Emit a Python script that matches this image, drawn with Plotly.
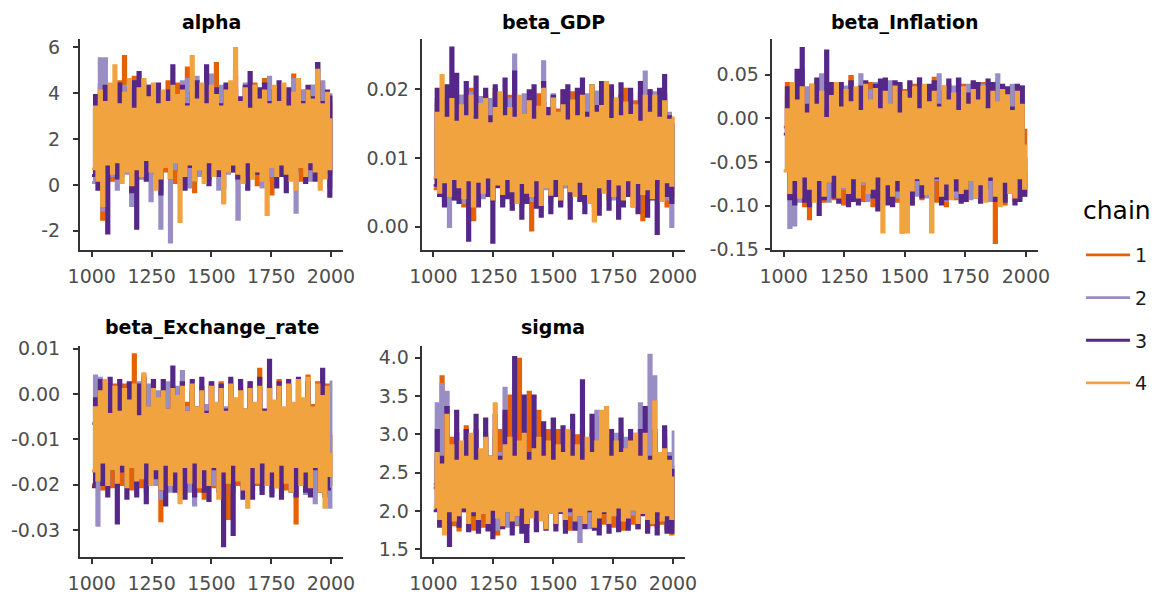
import plotly.graph_objects as go

# ---------------- data ----------------
# Each chain is read off the picture as alternating lower / upper envelope
# values per ~10-iteration pixel column (the dense trace renders as a band).
params = ["alpha", "beta_GDP", "beta_Inflation", "beta_Exchange_rate", "sigma"]
chains = ["1", "2", "3", "4"]
chain_colors = ["#e66101", "#998ec3", "#542788", "#f1a340"]

iterations = [round(1001 + k * 999 / 99) for k in range(100)]

alpha_c1 = [0.4, 3.2, 1.0, 4.3, -1.5, 3.8, 0.7, 4.0, 0.2, 3.6,
            0.9, 4.5, 0.4, 5.6, 1.2, 3.5, -0.3, 4.7, 0.8, 3.9,
            0.3, 3.4, 1.1, 4.3, 0.5, 3.7, 0.9, 4.1, -0.2, 3.3,
            0.6, 4.5, 1.0, 3.8, 0.1, 4.4, 0.8, 3.5, 0.4, 5.1,
            1.2, 3.6, -0.3, 4.0, 0.7, 3.4, 0.9, 4.5, 0.3, 3.9,
            1.0, 5.3, 0.5, 3.5, -0.7, 4.2, 0.9, 3.6, 0.6, 5.0,
            0.2, 3.7, 1.1, 4.3, 0.4, 3.4, 0.8, 4.4, 0.0, 3.8,
            1.0, 4.6, 0.6, 3.5, -0.4, 4.1, 1.1, 3.6, 0.5, 4.2,
            0.3, 3.5, 1.0, 4.8, 0.6, 3.7, 0.2, 4.1, 0.9, 3.4,
            0.4, 4.3, 1.1, 3.6, 0.3, 4.4, 0.8, 3.9, 0.5, 3.6]
alpha_c2 = [0.1, 3.5, 1.0, 5.5, -1.1, 5.5, 0.8, 3.6, 0.4, 4.1,
            -0.2, 3.7, 1.1, 4.3, 0.5, 3.4, -0.9, 4.0, 0.7, 3.8,
            0.3, 4.4, 1.0, 3.5, -0.7, 4.1, 0.6, 3.6, -1.9, 3.8,
            0.9, 3.4, -2.5, 4.2, 0.7, 3.6, 0.3, 4.5, 1.1, 4.6,
            -0.1, 3.5, 0.8, 4.7, 0.4, 3.7, 1.0, 4.2, 0.2, 4.8,
            0.7, 3.5, -0.2, 4.3, 1.1, 3.6, 0.5, 4.1, 0.9, 4.7,
            -1.5, 3.6, 0.6, 4.4, 1.0, 3.5, 0.3, 4.3, 0.8, 3.7,
            -0.1, 4.1, 0.9, 4.7, 0.4, 3.6, 1.2, 4.2, 0.5, 3.5,
            0.8, 4.0, 0.3, 4.6, -1.2, 3.7, 0.9, 4.1, 0.6, 3.4,
            0.2, 4.3, 1.0, 3.6, 0.4, 4.5, 0.8, 3.8, -0.1, 4.0]
alpha_c3 = [0.4, 3.9, -0.2, 3.4, 1.0, 4.3, -2.1, 3.7, 0.6, 4.2,
            0.3, 4.4, 1.1, 3.5, 0.7, 4.2, -0.3, 4.5, -1.9, 4.9,
            0.8, 3.6, 0.2, 4.3, 1.0, 3.4, 0.5, 4.4, -0.4, 3.7,
            0.9, 4.1, 0.3, 5.2, 1.1, 3.6, 0.6, 4.3, -0.2, 3.5,
            0.8, 4.0, 0.2, 4.5, 1.0, 3.7, 0.5, 5.2, 0.0, 3.6,
            0.9, 4.2, 0.4, 3.5, -0.1, 4.4, 1.1, 3.6, 0.6, 4.1,
            0.3, 3.8, 1.0, 4.3, -0.2, 4.9, 0.7, 3.5, 0.5, 4.2,
            1.1, 4.4, 0.2, 3.6, 0.8, 4.1, -0.1, 4.5, 0.4, 3.7,
            -0.3, 4.2, 0.9, 3.5, 0.6, 4.4, 1.0, 3.6, 0.1, 4.3,
            0.7, 3.8, 0.2, 5.3, 1.0, 3.6, 0.5, 4.1, -0.5, 3.9]
alpha_c4 = [0.7, 3.4, 0.2, 4.1, -0.9, 3.6, 0.9, 4.4, 0.5, 5.2,
            1.0, 3.5, 0.1, 4.0, 0.6, 4.6, 0.0, 3.3, 0.7, 4.2,
            0.4, 4.6, 1.1, 3.8, 0.6, 4.4, -0.2, 3.5, 0.3, 4.1,
            0.8, 3.6, 0.3, 4.3, 1.0, 3.9, -1.6, 4.1, 0.4, 3.4,
            0.9, 5.6, 0.2, 3.7, 0.7, 4.4, 0.1, 3.5, 1.0, 4.3,
            0.4, 3.9, 0.7, 3.4, -0.8, 4.1, 0.6, 4.5, 0.9, 5.95,
            0.5, 3.6, 0.1, 4.2, 1.0, 3.3, 0.3, 4.3, 0.6, 3.7,
            0.2, 4.1, -1.3, 3.5, 0.8, 4.3, 0.4, 3.6, 0.9, 4.4,
            0.5, 3.4, 0.2, 4.0, -0.2, 4.6, 0.8, 3.5, 0.4, 4.1,
            1.0, 3.7, 0.6, 5.0, -0.2, 3.5, 0.3, 4.0, 0.7, 2.9]

gdp_c1 = [.0055, .0178, .0070, .0150, .0040, .0185, .0062, .0195, .0045, .0160,
          .0072, .0190, .0030, .0165, .0058, .0200, .0010, .0155, .0066, .0178,
          .0048, .0190, .0068, .0162, .0038, .0200, .0060, .0158, .0045, .0186,
          .0070, .0190, .0035, .0155, .0056, .0182, .0074, .0168, .0040, .0188,
          -.0005, .0160, .0066, .0192, .0030, .0180, .0060, .0158, .0042, .0190,
          .0072, .0170, .0032, .0198, .0058, .0156, .0040, .0195, .0068, .0165,
          .0052, .0186, .0035, .0160, .0070, .0188, .0010, .0172, .0045, .0205,
          .0065, .0158, .0040, .0196, .0072, .0165, .0045, .0190, .0060, .0200,
          .0048, .0162, .0030, .0182, .0066, .0194, .0010, .0160, .0052, .0198,
          .0070, .0165, .0040, .0186, .0062, .0190, .0030, .0160, .0045, .0160]
gdp_c2 = [.0070, .0185, .0045, .0160, .0062, .0180, .0000, .0155, .0040, .0182,
          .0068, .0190, .0035, .0162, .0056, .0195, .0038, .0158, .0072, .0188,
          .0042, .0165, .0060, .0185, .0040, .0194, .0070, .0160, .0036, .0190,
          .0064, .0186, .0048, .0250, .0052, .0162, .0030, .0192, .0070, .0158,
          .0038, .0190, .0062, .0160, .0042, .0240, .0055, .0170, .0035, .0192,
          .0068, .0160, .0040, .0186, .0058, .0190, .0030, .0165, .0064, .0192,
          .0050, .0160, .0036, .0192, .0070, .0170, .0042, .0196, .0030, .0158,
          .0066, .0188, .0052, .0162, .0040, .0186, .0062, .0190, .0036, .0160,
          .0050, .0192, .0068, .0170, .0030, .0188, .0060, .0225, .0038, .0162,
          .0045, .0195, .0064, .0158, .0050, .0192, .0040, .0165, .0000, .0070]
gdp_c3 = [.0060, .0200, .0045, .0160, .0030, .0205, .0068, .0260, .0040, .0222,
          .0035, .0165, .0055, .0210, -.0020, .0160, .0060, .0218, .0030, .0175,
          .0066, .0200, .0045, .0160, -.0023, .0205, .0058, .0170, .0030, .0215,
          .0042, .0160, .0025, .0225, .0064, .0185, .0012, .0162, .0035, .0198,
          .0068, .0205, .0028, .0165, .0015, .0210, .0060, .0172, .0020, .0190,
          .0045, .0160, .0030, .0198, .0066, .0205, .0012, .0165, .0056, .0200,
          .0038, .0215, .0020, .0165, .0062, .0205, .0030, .0175, .0018, .0210,
          .0055, .0160, .0025, .0205, .0068, .0172, .0012, .0208, .0030, .0165,
          .0045, .0200, .0064, .0160, .0020, .0210, .0058, .0170, .0015, .0198,
          .0040, .0165, -.0010, .0200, .0062, .0220, .0045, .0160, .0035, .0150]
gdp_c4 = [.0072, .0165, .0050, .0220, .0065, .0158, .0045, .0185, .0070, .0152,
          .0058, .0176, .0042, .0160, .0068, .0190, .0030, .0155, .0066, .0178,
          .0050, .0185, .0072, .0150, .0040, .0172, .0062, .0195, .0048, .0160,
          .0070, .0172, .0052, .0158, .0035, .0190, .0064, .0162, .0050, .0182,
          .0045, .0155, .0068, .0174, .0032, .0200, .0058, .0160, .0047, .0186,
          .0070, .0165, .0040, .0176, .0062, .0154, .0052, .0183, .0045, .0160,
          .0066, .0190, .0048, .0158, .0035, .0205, .0008, .0165, .0058, .0175,
          .0050, .0210, .0070, .0156, .0045, .0185, .0062, .0160, .0040, .0180,
          .0068, .0162, .0030, .0176, .0064, .0152, .0048, .0190, .0055, .0165,
          .0042, .0190, .0070, .0158, .0038, .0182, .0065, .0155, .0060, .0160]

infl_c1 = [-.010, .040, -.085, .015, -.095, .038, -.070, .042, -.100, .010,
           -.115, .035, -.068, .020, -.088, .040, -.095, .008, -.075, .030,
           -.092, .038, -.066, .015, -.098, .035, -.080, .048, -.090, .012,
           -.070, .036, -.094, .018, -.082, .040, -.100, .010, -.072, .035,
           -.092, .020, -.085, .040, -.068, .012, -.095, .036, -.130, .032,
           -.078, .015, -.098, .038, -.070, .036, -.092, .010, -.086, .036,
           -.072, .046, -.095, .018, -.080, .036, -.100, .012, -.068, .034,
           -.092, .020, -.075, .038, -.094, .010, -.070, .040, -.085, .018,
           -.095, .040, -.068, .012, -.090, .038, -.142, .020, -.078, .034,
           -.098, .015, -.070, .034, -.094, .036, -.080, .012, -.084, -.012]
infl_c2 = [-.060, .025, -.125, .030, -.122, .008, -.095, .055, -.070, .035,
           -.088, .012, -.092, .040, -.068, .050, -.090, .015, -.095, .034,
           -.070, .038, -.092, .010, -.080, .036, -.094, .040, -.068, .015,
           -.090, .050, -.075, .012, -.094, .032, -.070, .040, -.092, .018,
           -.088, .038, -.066, .042, -.086, .010, -.090, .038, -.095, .020,
           -.070, .040, -.092, .015, -.088, .045, -.068, .034, -.090, .010,
           -.092, .036, -.070, .050, -.090, .015, -.094, .038, -.068, .036,
           -.090, .012, -.094, .035, -.072, .038, -.092, .015, -.088, .034,
           -.070, .038, -.086, .010, -.094, .040, -.090, .050, -.068, .018,
           -.094, .034, -.072, .038, -.086, .012, -.092, .036, -.088, -.060]
infl_c3 = [-.018, .035, -.092, .012, -.098, .055, -.070, .080, -.095, .015,
           -.100, .038, -.068, .045, -.110, .010, -.092, .077, -.072, .040,
           -.090, .015, -.096, .040, -.070, .030, -.100, .042, -.094, .010,
           -.098, .036, -.072, .042, -.080, .015, -.090, .038, -.105, .044,
           -.070, .045, -.098, .012, -.100, .042, -.082, .040, -.068, .015,
           -.092, .042, -.098, .030, -.070, .045, -.090, .010, -.078, .038,
           -.094, .042, -.068, .015, -.098, .030, -.092, .044, -.070, .012,
           -.082, .045, -.096, .015, -.094, .028, -.068, .042, -.090, .040,
           -.096, .012, -.080, .044, -.070, .040, -.094, .015, -.092, .038,
           -.095, .035, -.070, .012, -.098, .038, -.094, .036, -.088, -.045]
infl_c4 = [-.060, .010, -.085, .040, -.070, .020, -.090, .035, -.066, .005,
           -.080, .038, -.095, .015, -.070, .030, -.088, .000, -.072, .025,
           -.064, .040, -.090, .012, -.078, .032, -.085, .018, -.068, .035,
           -.090, .008, -.072, .038, -.085, .020, -.080, .033, -.066, .010,
           -.130, .030, -.075, .015, -.088, .036, -.070, .005, -.130, .030,
           -.130, .022, -.082, .035, -.068, .010, -.075, .038, -.086, .018,
           -.130, .030, -.066, .012, -.088, .036, -.074, .020, -.092, .028,
           -.068, .008, -.085, .035, -.080, .015, -.070, .032, -.090, .020,
           -.075, .036, -.095, .010, -.066, .030, -.088, .018, -.100, .032,
           -.072, .026, -.085, .008, -.090, .030, -.068, .015, -.080, -.030]

exch_c1 = [-.0200, .0010, -.0150, -.0030, -.0210, .0015, -.0165, -.0040, -.0205, .0020,
           -.0150, -.0025, -.0200, .0020, -.0170, -.0030, -.0210, .0087, -.0160, -.0040,
           -.0205, .0040, -.0155, -.0020, -.0200, .0025, -.0170, -.0035, -.0280, .0005,
           -.0160, -.0030, -.0210, .0015, -.0150, -.0040, -.0220, .0025, -.0165, -.0020,
           -.0210, .0000, -.0160, -.0045, -.0215, .0015, -.0230, -.0030, -.0155, .0020,
           -.0205, -.0025, -.0160, .0025, -.0200, -.0040, -.0275, .0015, -.0165, -.0020,
           -.0200, .0020, -.0155, -.0035, -.0205, .0025, -.0170, -.0030, -.0200, .0055,
           -.0160, -.0040, -.0200, .0020, -.0165, -.0025, -.0205, .0030, -.0150, -.0035,
           -.0210, .0020, -.0165, -.0030, -.0285, .0025, -.0155, -.0040, -.0215, .0040,
           -.0160, -.0025, -.0210, .0025, -.0170, -.0035, -.0220, .0020, -.0200, -.0090]
exch_c2 = [-.0065, .0040, -.0290, .0035, -.0160, -.0030, -.0200, .0010, -.0155, -.0040,
           -.0205, .0015, -.0165, -.0030, -.0200, .0020, -.0150, -.0035, -.0205, .0025,
           -.0160, -.0030, -.0215, .0020, -.0165, -.0040, -.0200, .0005, -.0230, -.0025,
           -.0160, .0025, -.0215, -.0035, -.0170, .0015, -.0210, .0050, -.0155, -.0030,
           -.0215, .0010, -.0245, -.0040, -.0160, .0015, -.0210, -.0025, -.0165, .0025,
           -.0200, -.0035, -.0155, .0020, -.0230, -.0030, -.0165, .0025, -.0215, -.0040,
           -.0160, .0010, -.0200, -.0035, -.0170, .0015, -.0210, -.0030, -.0155, .0010,
           -.0210, -.0040, -.0160, .0015, -.0215, -.0030, -.0165, .0010, -.0200, -.0035,
           -.0160, .0015, -.0205, -.0030, -.0170, .0010, -.0200, -.0040, -.0220, .0015,
           -.0160, -.0030, -.0240, .0015, -.0165, -.0035, -.0215, .0010, -.0250, .0030]
exch_c3 = [-.0205, -.0010, -.0160, .0030, -.0200, -.0035, -.0225, .0035, -.0165, -.0040,
           -.0285, .0030, -.0170, -.0030, -.0230, .0025, -.0160, -.0040, -.0225, .0020,
           -.0165, .0035, -.0240, -.0030, -.0170, .0030, -.0185, -.0040, -.0210, .0030,
           -.0245, -.0035, -.0160, .0060, -.0215, -.0030, -.0170, .0025, -.0230, -.0040,
           -.0160, .0030, -.0225, -.0030, -.0170, .0035, -.0215, -.0040, -.0235, .0025,
           -.0165, -.0030, -.0215, .0020, -.0335, -.0035, -.0170, .0035, -.0310, -.0030,
           -.0160, .0030, -.0230, -.0040, -.0170, .0025, -.0230, -.0030, -.0165, .0035,
           -.0220, -.0035, -.0165, .0075, -.0225, -.0030, -.0160, .0025, -.0230, -.0040,
           -.0170, .0030, -.0215, -.0035, -.0225, .0035, -.0165, -.0030, -.0215, .0025,
           -.0225, -.0030, -.0165, .0005, -.0215, .0055, -.0225, -.0035, -.0210, -.0210]
exch_c4 = [-.0170, -.0030, -.0190, .0005, -.0150, .0030, -.0200, -.0045, -.0165, .0015,
           -.0195, -.0040, -.0155, .0010, -.0205, -.0015, -.0160, .0020, -.0190, -.0050,
           -.0185, .0045, -.0150, -.0030, -.0200, .0010, -.0165, -.0010, -.0210, .0005,
           -.0155, -.0035, -.0200, .0010, -.0170, -.0005, -.0240, .0015, -.0160, -.0040,
           -.0195, .0020, -.0150, -.0030, -.0205, .0005, -.0165, -.0045, -.0200, .0015,
           -.0160, -.0020, -.0230, .0010, -.0170, -.0040, -.0195, .0020, -.0155, -.0010,
           -.0190, .0005, -.0210, -.0035, -.0250, .0010, -.0160, -.0020, -.0195, .0015,
           -.0150, -.0040, -.0200, .0010, -.0170, -.0015, -.0205, .0015, -.0155, -.0030,
           -.0195, .0020, -.0215, -.0020, -.0160, .0030, -.0200, -.0010, -.0170, .0035,
           -.0205, -.0030, -.0160, .0020, -.0215, -.0005, -.0250, .0015, -.0180, -.0130]

sigma_c1 = [2.30, 2.65, 1.95, 3.75, 1.80, 2.70, 2.05, 2.95, 1.82, 3.00,
            1.75, 2.70, 2.00, 3.10, 1.85, 2.65, 1.76, 3.05, 2.02, 2.75,
            1.80, 3.00, 2.05, 2.70, 1.82, 2.95, 1.70, 3.05, 1.98, 3.25,
            1.85, 3.50, 2.02, 2.70, 1.82, 3.98, 1.95, 2.75, 1.80, 3.55,
            2.00, 2.70, 1.76, 3.30, 1.95, 2.65, 1.78, 3.05, 2.05, 2.75,
            1.85, 3.05, 1.98, 2.70, 1.82, 3.00, 1.76, 2.75, 2.02, 2.98,
            1.82, 3.05, 1.98, 2.70, 1.84, 3.00, 2.05, 2.65, 1.80, 2.95,
            1.84, 2.70, 2.00, 3.05, 1.80, 2.75, 1.95, 3.00, 1.76, 2.70,
            2.02, 2.98, 1.84, 2.70, 1.78, 2.95, 2.00, 3.00, 1.80, 2.70,
            1.82, 3.00, 2.02, 2.70, 1.84, 2.95, 1.76, 2.75, 1.70, 2.60]
sigma_c2 = [2.35, 3.40, 1.85, 3.65, 2.00, 3.55, 1.82, 2.70, 1.95, 3.00,
            1.84, 2.75, 2.05, 3.05, 1.76, 2.70, 1.98, 3.00, 1.80, 2.75,
            2.02, 2.95, 1.84, 2.70, 1.95, 3.05, 1.76, 2.75, 2.00, 3.60,
            1.80, 2.70, 1.98, 2.95, 1.84, 2.75, 2.05, 3.05, 1.82, 2.70,
            1.95, 3.00, 1.78, 2.70, 2.02, 2.95, 1.80, 2.75, 1.98, 3.05,
            1.82, 2.70, 2.00, 3.05, 1.80, 2.75, 1.95, 2.95, 1.78, 2.70,
            1.60, 3.00, 2.00, 2.70, 1.78, 2.95, 1.95, 3.30, 1.80, 2.70,
            2.02, 3.05, 1.82, 2.70, 1.98, 3.00, 1.78, 2.75, 2.00, 2.95,
            1.80, 2.70, 1.96, 3.00, 1.82, 3.40, 2.00, 2.70, 1.78, 4.03,
            1.95, 3.75, 1.80, 2.70, 2.00, 3.05, 1.78, 2.75, 1.80, 3.05]
sigma_c3 = [2.00, 3.05, 1.80, 2.70, 2.02, 3.35, 1.55, 2.75, 1.95, 3.30,
            1.80, 2.70, 2.00, 3.05, 1.74, 2.65, 1.95, 3.25, 1.72, 2.75,
            2.02, 3.20, 1.75, 2.70, 1.65, 3.25, 1.98, 2.70, 1.78, 3.30,
            2.00, 2.75, 1.70, 4.00, 1.95, 2.70, 1.72, 3.50, 1.60, 2.75,
            2.00, 3.50, 1.74, 2.70, 1.95, 3.15, 1.76, 2.70, 2.02, 3.20,
            1.75, 2.70, 1.98, 3.10, 1.72, 2.75, 2.00, 3.25, 1.76, 2.70,
            1.95, 3.70, 1.78, 2.70, 2.00, 3.25, 1.76, 2.75, 1.70, 3.05,
            1.98, 2.70, 1.72, 3.05, 2.00, 2.70, 1.74, 3.20, 1.95, 2.75,
            1.76, 3.05, 2.02, 2.70, 1.78, 3.05, 1.95, 3.35, 1.72, 2.70,
            2.00, 3.05, 1.70, 2.75, 1.95, 3.10, 1.72, 2.70, 1.72, 2.55]
sigma_c4 = [2.05, 2.75, 1.90, 2.60, 1.70, 3.25, 2.00, 2.85, 1.88, 2.65,
            1.95, 2.90, 2.05, 2.70, 1.85, 3.00, 2.00, 2.65, 1.90, 2.80,
            1.98, 2.95, 1.85, 2.70, 2.02, 3.40, 1.92, 2.65, 1.82, 2.85,
            2.00, 2.95, 1.88, 2.70, 1.95, 2.90, 2.05, 3.00, 1.85, 2.65,
            1.92, 2.80, 2.02, 2.95, 1.88, 2.70, 1.78, 2.90, 1.98, 2.65,
            1.85, 2.85, 2.00, 2.75, 1.90, 3.05, 2.05, 2.70, 1.88, 2.85,
            1.95, 2.65, 1.85, 2.95, 2.02, 2.75, 1.80, 2.90, 1.92, 3.30,
            2.00, 3.35, 1.85, 2.70, 1.95, 2.90, 2.05, 2.75, 1.88, 2.80,
            1.92, 2.90, 2.02, 3.00, 1.85, 2.70, 1.98, 3.00, 1.90, 2.65,
            1.85, 3.42, 2.00, 2.75, 1.88, 2.80, 1.95, 2.65, 1.90, 2.45]

draws = {
    "alpha": [alpha_c1, alpha_c2, alpha_c3, alpha_c4],
    "beta_GDP": [gdp_c1, gdp_c2, gdp_c3, gdp_c4],
    "beta_Inflation": [infl_c1, infl_c2, infl_c3, infl_c4],
    "beta_Exchange_rate": [exch_c1, exch_c2, exch_c3, exch_c4],
    "sigma": [sigma_c1, sigma_c2, sigma_c3, sigma_c4],
}

x_tickvals = [1000, 1250, 1500, 1750, 2000]
y_ticks = {
    "alpha": ([-2, 0, 2, 4, 6], ["-2", "0", "2", "4", "6"]),
    "beta_GDP": ([0.0, 0.01, 0.02], ["0.00", "0.01", "0.02"]),
    "beta_Inflation": ([-0.15, -0.10, -0.05, 0.0, 0.05],
                       ["-0.15", "-0.10", "-0.05", "0.00", "0.05"]),
    "beta_Exchange_rate": ([-0.03, -0.02, -0.01, 0.0, 0.01],
                           ["-0.03", "-0.02", "-0.01", "0.00", "0.01"]),
    "sigma": ([1.5, 2.0, 2.5, 3.0, 3.5, 4.0],
              ["1.5", "2.0", "2.5", "3.0", "3.5", "4.0"]),
}
y_ranges = {
    "alpha": [-2.84, 6.36],
    "beta_GDP": [-0.0034, 0.0273],
    "beta_Inflation": [-0.1506, 0.0907],
    "beta_Exchange_rate": [-0.0359, 0.0106],
    "sigma": [1.404, 4.15],
}

# ---------------- layout ----------------
W, H = 1157, 596
col_px = [(80, 343), (421.7, 685), (771.7, 1038)]
row_px = [(39, 250), (346, 556.7)]
panel_pos = [(0, 0), (0, 1), (0, 2), (1, 0), (1, 1)]
title_y_px = [22, 327]

fig = go.Figure()
axis_color = "#333333"
tick_font = dict(family="DejaVu Sans", size=19, color="#4d4d4d")

annotations = []
for i, p in enumerate(params):
    r, c = panel_pos[i]
    xs = "" if i == 0 else str(i + 1)
    for j in range(4):
        fig.add_trace(go.Scatter(
            x=iterations, y=draws[p][j], mode="lines",
            line=dict(color=chain_colors[j], width=2.8, shape="hv"),
            name=chains[j], legendgroup=chains[j],
            showlegend=(i == 0), hoverinfo="skip",
            xaxis="x" + xs, yaxis="y" + xs,
        ))
    x0, x1 = col_px[c]
    y0, y1 = row_px[r]
    xd = [x0 / W, x1 / W]
    yd = [1 - y1 / H, 1 - y0 / H]
    fig.layout["xaxis" + xs] = dict(
        domain=xd, anchor="y" + xs, range=[951, 2050],
        tickvals=x_tickvals, ticktext=[str(v) for v in x_tickvals],
        showline=True, linecolor=axis_color, linewidth=2,
        ticks="outside", ticklen=5, tickwidth=2, tickcolor=axis_color,
        showgrid=False, zeroline=False, tickfont=tick_font,
        ticklabelstandoff=3, automargin=False,
    )
    tv, tt = y_ticks[p]
    fig.layout["yaxis" + xs] = dict(
        domain=yd, anchor="x" + xs, range=y_ranges[p],
        tickvals=tv, ticktext=tt,
        showline=True, linecolor=axis_color, linewidth=2,
        ticks="outside", ticklen=5, tickwidth=2, tickcolor=axis_color,
        showgrid=False, zeroline=False, tickfont=tick_font,
        ticklabelstandoff=(9 if c == 0 else 2), automargin=False,
    )
    annotations.append(dict(
        text="<b>%s</b>" % p, xref="paper", yref="paper",
        x=(xd[0] + xd[1]) / 2, y=1 - title_y_px[r] / H,
        xanchor="center", yanchor="middle", showarrow=False,
        font=dict(family="DejaVu Sans", size=19, color="black"),
    ))

# legend title as text
annotations.append(dict(
    text="chain", xref="paper", yref="paper",
    x=1081 / W, y=1 - 210 / H, xanchor="left", yanchor="middle",
    showarrow=False, font=dict(family="DejaVu Sans", size=25, color="black"),
))

fig.update_layout(
    width=W, height=H,
    margin=dict(l=0, r=0, t=0, b=0, autoexpand=False),
    paper_bgcolor="white", plot_bgcolor="white",
    annotations=annotations,
    legend=dict(
        font=dict(family="DejaVu Sans", size=19, color="#1a1a1a"),
        x=1081 / W, y=1 - 236 / H, xanchor="left", yanchor="top",
        traceorder="grouped", tracegroupgap=15, itemwidth=44,
        bgcolor="rgba(0,0,0,0)",
    ),
)

fig.write_html("out.html")
